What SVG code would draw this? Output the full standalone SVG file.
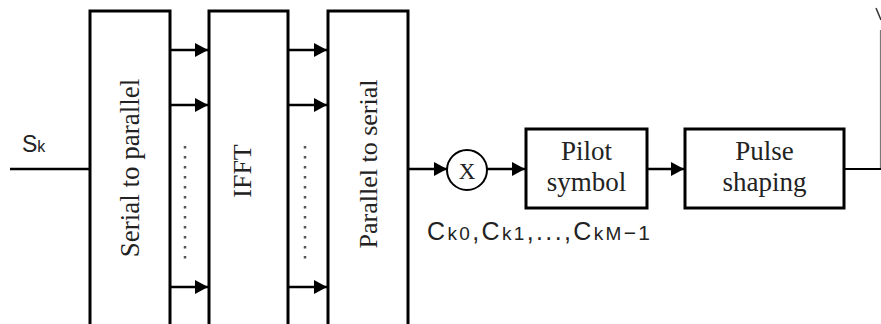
<svg xmlns="http://www.w3.org/2000/svg" width="881" height="324" viewBox="0 0 881 324">
<style>
.box{fill:#fff;stroke:#000;stroke-width:3}
.ln{fill:none;stroke:#000;stroke-width:2.5}
.dot{fill:none;stroke:#555;stroke-width:2.5;stroke-dasharray:2.5 7.5}
</style>
<defs>
<marker id="ah" markerWidth="14" markerHeight="14" refX="13" refY="7" orient="auto" markerUnits="userSpaceOnUse">
<path d="M0,0 L13,7 L0,14 Z" fill="#000"/>
</marker>
</defs>
<rect width="881" height="324" fill="#fff"/>
<g id="connectors">
<path class="ln" d="M10,169 H90"/>
<path class="ln" d="M170,50 H208" marker-end="url(#ah)"/>
<path class="ln" d="M170,105 H208" marker-end="url(#ah)"/>
<path class="ln" d="M170,287 H208" marker-end="url(#ah)"/>
<path class="ln" d="M288,50 H327" marker-end="url(#ah)"/>
<path class="ln" d="M288,105 H327" marker-end="url(#ah)"/>
<path class="ln" d="M288,287 H327" marker-end="url(#ah)"/>
<path class="ln" d="M408,169 H447" marker-end="url(#ah)"/>
<path class="ln" d="M487,169 H525" marker-end="url(#ah)"/>
<path class="ln" d="M647,169 H684" marker-end="url(#ah)"/>
<path fill="none" stroke="#000" stroke-width="1.8" d="M844,169 H881"/>
<path class="dot" d="M185,146 V262"/>
<path class="dot" d="M305,146 V262"/>
<path fill="none" stroke="#333" stroke-width="1.5" d="M876,8 L881,20"/>
<path fill="none" stroke="#777" stroke-width="1.2" d="M880.5,30 V168"/>
</g>
<g font-family="Liberation Sans, Arial, sans-serif" fill="#222">
<g id="sk"><text x="22" y="152" font-size="23">S<tspan font-size="16">k</tspan></text></g>
<g id="clabel"><text x="427" y="240" font-size="25" textLength="223" lengthAdjust="spacing">C<tspan font-size="19">k0</tspan>,C<tspan font-size="19">k1</tspan>,...,C<tspan font-size="19">kM</tspan><tspan font-size="21">−1</tspan></text></g>
</g>
<g font-family="Liberation Serif, Times New Roman, serif" font-size="27" fill="#222">
<g id="s2p">
<rect class="box" x="90" y="11" width="80" height="330"/>
<text transform="translate(139,168) rotate(-90)" text-anchor="middle">Serial to parallel</text>
</g>
<g id="ifft">
<rect class="box" x="209" y="11" width="79" height="330"/>
<text transform="translate(251,171) rotate(-90)" text-anchor="middle" font-size="26">IFFT</text>
</g>
<g id="p2s">
<rect class="box" x="328" y="11" width="80" height="330"/>
<text transform="translate(377,164) rotate(-90)" text-anchor="middle" font-size="26">Parallel to serial</text>
</g>
<g id="mult">
<circle cx="467" cy="170" r="20" fill="#fff" stroke="#000" stroke-width="2"/>
<text x="467" y="179" font-size="23" text-anchor="middle">X</text>
</g>
<g id="pilot">
<rect class="box" x="526" y="129" width="121" height="79"/>
<text x="586.5" y="160" text-anchor="middle">Pilot</text>
<text x="586.5" y="191" text-anchor="middle">symbol</text>
</g>
<g id="pulse">
<rect class="box" x="685" y="129" width="159" height="79"/>
<text x="764.5" y="160" text-anchor="middle">Pulse</text>
<text x="764.5" y="191" text-anchor="middle">shaping</text>
</g>
</g>
</svg>
